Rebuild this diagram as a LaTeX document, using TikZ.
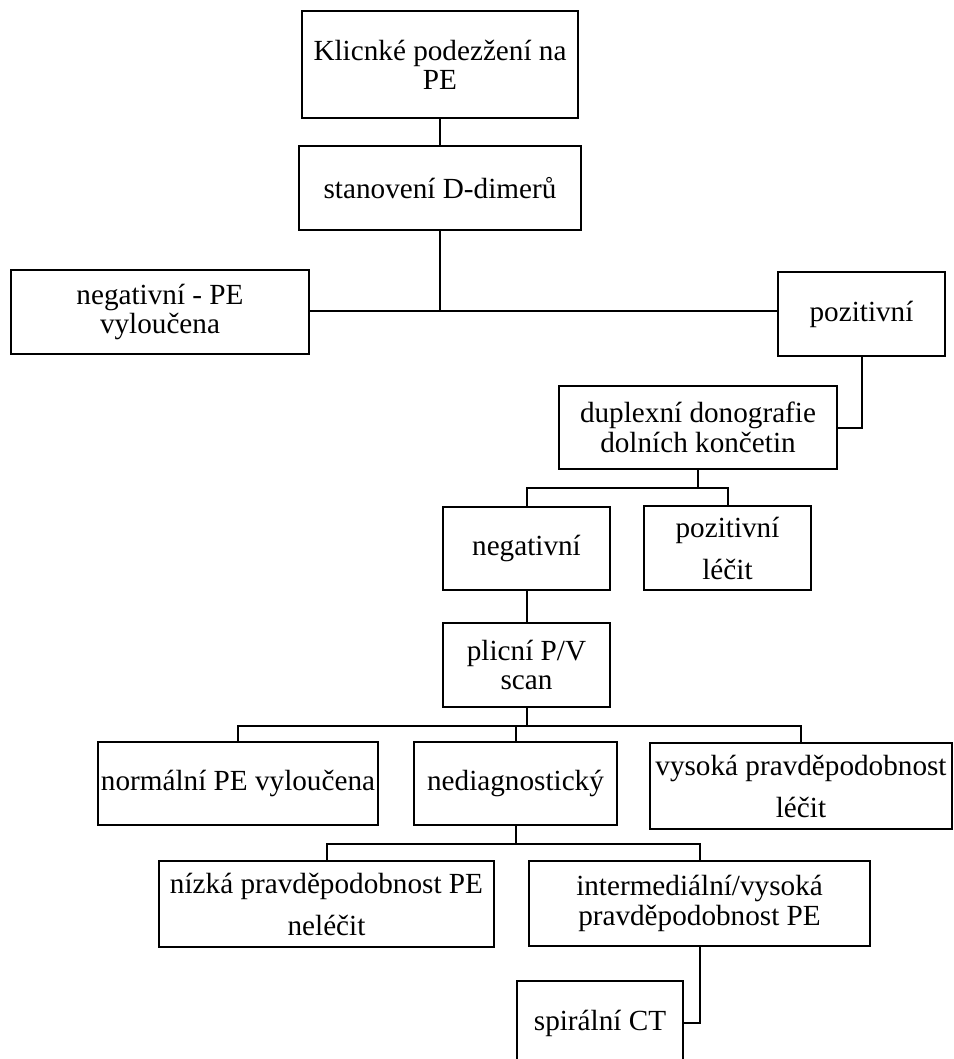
\documentclass[tikz,border=0pt]{standalone}
\usepackage{fontspec}
\setmainfont{Liberation Serif}
\begin{document}
\begin{tikzpicture}[x=1pt,y=-1pt,
  boxx/.style={draw,line width=2pt,rectangle,inner sep=0pt,align=center,
    font=\fontsize{29.2}{29.3}\selectfont},
  wide/.style={font=\fontsize{29.2}{42}\selectfont},
  conn/.style={line width=2pt}]
\useasboundingbox (0,0) rectangle (953,1059);
\clip (0,0) rectangle (953,1059);
\fill[white] (0,0) rectangle (953,1059);

\node[boxx,minimum width=276pt,minimum height=107pt] (top) at (440,64.5) {Klicnké podezžení na\\PE};
\node[boxx,minimum width=282pt,minimum height=84pt] (ddim) at (440,188) {stanovení D-dimerů};
\node[boxx,minimum width=298pt,minimum height=84pt] (neg) at (160,312) {negativní - PE\\vyloučena};
\node[boxx,minimum width=167pt,minimum height=84pt] (poz) at (861.5,314) {pozitivní};
\node[boxx,minimum width=278pt,minimum height=83pt] (dup) at (698,427.5) {duplexní donografie\\dolních končetin};
\node[boxx,minimum width=167pt,minimum height=83pt] (negb) at (526.5,548.5) {negativní};
\node[boxx,wide,minimum width=167pt,minimum height=84pt] (pozl) at (727.5,548) {pozitivní\\léčit};
\node[boxx,minimum width=167pt,minimum height=84pt] (plic) at (526.5,665) {plicní P/V\\scan};
\node[boxx,minimum width=280pt,minimum height=83pt] (norm) at (238,783.5) {normální PE vyloučena};
\node[boxx,minimum width=203pt,minimum height=83pt] (nedi) at (515.5,783.5) {nediagnostický};
\node[boxx,wide,minimum width=302pt,minimum height=86pt] (vys) at (801,786) {vysoká pravděpodobnost\\léčit};
\node[boxx,wide,minimum width=335pt,minimum height=86pt] (niz) at (326.5,904) {nízká pravděpodobnost PE\\neléčit};
\node[boxx,minimum width=341pt,minimum height=85pt] (inter) at (699.5,903.5) {intermediální/vysoká\\pravděpodobnost PE};
\node[boxx,minimum width=166pt,minimum height=84pt] (spir) at (600,1023) {spirální CT};

\coordinate (j0) at (440,311);
\coordinate (j1) at (698,488);
\coordinate (j2) at (526.5,726);
\coordinate (j3) at (515.5,844);

\draw[conn] (top.south) -- (ddim.north);
\draw[conn] (ddim.south) -- (j0);
\draw[conn] (neg.east |- j0) -- (poz.west |- j0);
\draw[conn] (poz.south) |- (dup.east);
\draw[conn] (dup.south) -- (j1);
\draw[conn] (negb.north) |- (j1) -| (pozl.north);
\draw[conn] (negb.south) -- (plic.north);
\draw[conn] (plic.south) -- (j2);
\draw[conn] (norm.north) |- (j2) -| (vys.north);
\draw[conn] (nedi.north) -- (nedi.north |- j2);
\draw[conn] (nedi.south) -- (j3);
\draw[conn] (niz.north) |- (j3) -| (inter.north);
\draw[conn] (inter.south) |- (spir.east);
\end{tikzpicture}
\end{document}
